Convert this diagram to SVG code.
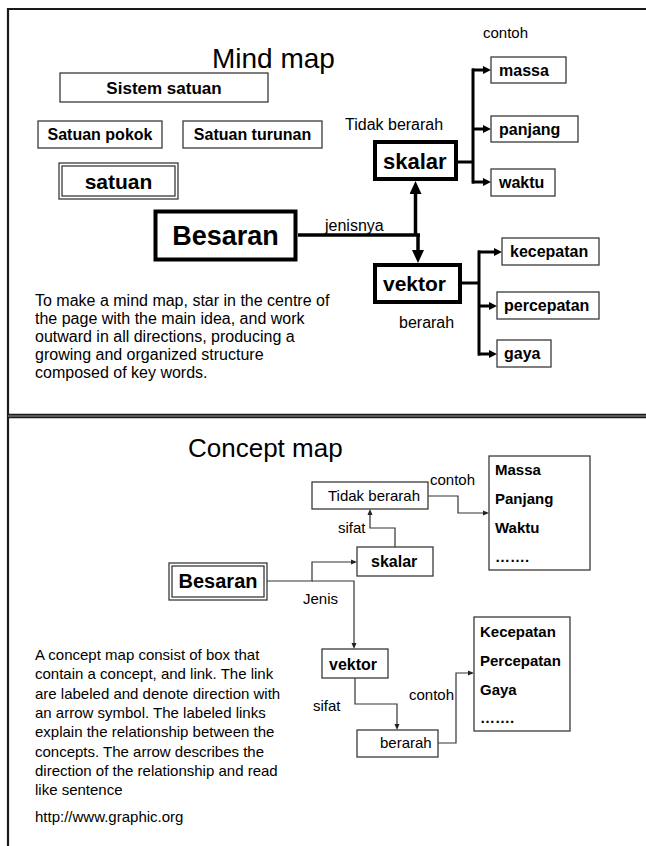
<svg xmlns="http://www.w3.org/2000/svg" width="646" height="846" viewBox="0 0 646 846">
  <defs>
    <style>
      .frame{fill:none;stroke:#1a1a1a;stroke-width:2.2}
      .box{fill:#fff;stroke:#3a3a3a;stroke-width:1.3}
      .thick{fill:#fff;stroke:#000;stroke-width:4}
      .t{font-family:"Liberation Sans",Arial,sans-serif;fill:#000}
      .b{font-weight:bold}
      .mm{fill:none;stroke:#000;stroke-width:3.5}
      .br{fill:none;stroke:#000;stroke-width:3}
      .cm{fill:none;stroke:#333;stroke-width:1.2}
    </style>
    <marker id="bigHead" markerUnits="userSpaceOnUse" markerWidth="13" markerHeight="12" refX="0" refY="6" orient="auto">
      <path d="M0,0 L13,6 L0,12 z" fill="#000"/>
    </marker>
    <marker id="smallHead" markerUnits="userSpaceOnUse" markerWidth="8" markerHeight="8" refX="0" refY="4" orient="auto">
      <path d="M0,0 L8,4 L0,8 z" fill="#000"/>
    </marker>
    <marker id="thinHead" markerUnits="userSpaceOnUse" markerWidth="6" markerHeight="6" refX="0" refY="3" orient="auto">
      <path d="M0,0.5 L6,3 L0,5.5 z" fill="#222"/>
    </marker>
  </defs>

  <rect width="646" height="846" fill="#fff"/>

  <!-- page frame and divider between the two panels -->
  <g id="frame">
    <path class="frame" d="M646 9 H8 V846"/>
    <path d="M8 416 H646" stroke="#1a1a1a" stroke-width="4.5" fill="none"/>
    <path d="M8 416 H646" stroke="#9a9a9a" stroke-width="1" fill="none"/>
  </g>

  <!-- ===== Mind map panel ===== -->
  <text class="t" x="212" y="68" font-size="28">Mind map</text>

  <g id="connectors-mind">
    <path class="mm" d="M298 235 H420"/>
    <path class="mm" d="M415.5 236 V194" marker-end="url(#bigHead)"/>
    <path class="mm" d="M418 234 V250" marker-end="url(#bigHead)"/>
    <!-- skalar branches -->
    <path class="br" d="M457 162 H473"/>
    <path class="br" d="M473 68.5 V183.5"/>
    <path class="br" d="M472 70 H483" marker-end="url(#smallHead)"/>
    <path class="br" d="M472 129 H483" marker-end="url(#smallHead)"/>
    <path class="br" d="M472 182 H483" marker-end="url(#smallHead)"/>
    <!-- vektor branches -->
    <path class="br" d="M461 283 H479"/>
    <path class="br" d="M479 250.5 V355.5"/>
    <path class="br" d="M478 252 H494" marker-end="url(#smallHead)"/>
    <path class="br" d="M478 306 H489" marker-end="url(#smallHead)"/>
    <path class="br" d="M478 354 H489" marker-end="url(#smallHead)"/>
    <text class="t" x="325" y="231" font-size="16">jenisnya</text>
    <text class="t" x="483" y="38" font-size="15">contoh</text>
    <text class="t" x="345" y="130" font-size="16">Tidak berarah</text>
    <text class="t" x="399" y="328" font-size="16">berarah</text>
  </g>

  <g id="sistem-satuan">
    <rect class="box" x="60" y="73" width="208" height="29"/>
    <text class="t b" x="164" y="94" font-size="17" text-anchor="middle">Sistem satuan</text>
  </g>
  <g id="satuan-pokok">
    <rect class="box" x="38" y="121" width="124" height="27"/>
    <text class="t b" x="100" y="140" font-size="16" text-anchor="middle">Satuan pokok</text>
  </g>
  <g id="satuan-turunan">
    <rect class="box" x="183" y="121" width="139" height="27"/>
    <text class="t b" x="252.5" y="140" font-size="16" text-anchor="middle">Satuan turunan</text>
  </g>
  <g id="satuan">
    <rect class="box" x="59" y="163" width="119" height="36"/>
    <rect class="box" x="62" y="166" width="113" height="30"/>
    <text class="t b" x="118.5" y="188.5" font-size="21" text-anchor="middle">satuan</text>
  </g>
  <g id="besaran-mind">
    <rect class="thick" x="155.5" y="211.5" width="140" height="48" stroke-width="5"/>
    <text class="t b" x="225.5" y="245" font-size="27" text-anchor="middle">Besaran</text>
  </g>
  <g id="skalar-mind">
    <rect class="thick" x="375" y="142" width="81" height="37"/>
    <text class="t b" x="383" y="168.5" font-size="22">skalar</text>
  </g>
  <g id="vektor-mind">
    <rect class="thick" x="375" y="265" width="85" height="37"/>
    <text class="t b" x="383" y="291" font-size="21">vektor</text>
  </g>
  <g id="massa">
    <rect class="box" x="491" y="57" width="75" height="26"/>
    <text class="t b" x="499" y="76" font-size="16">massa</text>
  </g>
  <g id="panjang">
    <rect class="box" x="491" y="116" width="87" height="26"/>
    <text class="t b" x="499" y="135" font-size="16">panjang</text>
  </g>
  <g id="waktu">
    <rect class="box" x="491" y="169" width="64" height="27"/>
    <text class="t b" x="499" y="188" font-size="16">waktu</text>
  </g>
  <g id="kecepatan">
    <rect class="box" x="502" y="238" width="97" height="27"/>
    <text class="t b" x="510" y="257" font-size="16">kecepatan</text>
  </g>
  <g id="percepatan">
    <rect class="box" x="497" y="292" width="102" height="27"/>
    <text class="t b" x="504" y="311" font-size="16">percepatan</text>
  </g>
  <g id="gaya">
    <rect class="box" x="497" y="340" width="54" height="27"/>
    <text class="t b" x="504" y="359" font-size="16">gaya</text>
  </g>

  <g id="mind-note" class="t" font-size="16">
    <text x="35" y="306">To make a mind map, star in the centre of</text>
    <text x="35" y="324">the page with the main idea, and work</text>
    <text x="35" y="342">outward in all directions, producing a</text>
    <text x="35" y="360">growing and organized structure</text>
    <text x="35" y="378">composed of key words.</text>
  </g>

  <!-- ===== Concept map panel ===== -->
  <text class="t" x="188" y="457" font-size="26">Concept map</text>

  <g id="connectors-concept">
    <path class="cm" d="M267 581 H312 V562 H351" marker-end="url(#thinHead)"/>
    <path class="cm" d="M312 581 H354 V643" marker-end="url(#thinHead)"/>
    <path class="cm" d="M395 547 V528 H370 V515" marker-end="url(#thinHead)"/>
    <path class="cm" d="M428 496 H458 V513 H483" marker-end="url(#thinHead)"/>
    <path class="cm" d="M355 678 V704 H397 V724" marker-end="url(#thinHead)"/>
    <path class="cm" d="M438 743 H456 V673 H468" marker-end="url(#thinHead)"/>
    <text class="t" x="430" y="485" font-size="15">contoh</text>
    <text class="t" x="338" y="533" font-size="15">sifat</text>
    <text class="t" x="303" y="604" font-size="15">Jenis</text>
    <text class="t" x="313" y="711" font-size="15">sifat</text>
    <text class="t" x="409" y="700" font-size="15">contoh</text>
  </g>

  <g id="tidak-berarah">
    <rect class="box" x="312" y="482" width="116" height="27"/>
    <text class="t" x="328" y="501" font-size="15">Tidak berarah</text>
  </g>
  <g id="contoh-skalar">
    <rect class="box" x="489" y="456" width="101" height="114"/>
    <text class="t b" x="495" y="475" font-size="15">Massa</text>
    <text class="t b" x="495" y="504" font-size="15">Panjang</text>
    <text class="t b" x="495" y="533" font-size="15">Waktu</text>
    <text class="t b" x="495" y="562" font-size="15">…….</text>
  </g>
  <g id="skalar-concept">
    <rect class="box" x="357" y="547" width="76" height="29"/>
    <text class="t b" x="371" y="567" font-size="16">skalar</text>
  </g>
  <g id="besaran-concept">
    <rect class="box" x="169" y="563" width="98" height="37"/>
    <rect class="box" x="172" y="566" width="92" height="31"/>
    <text class="t b" x="218" y="588" font-size="20" text-anchor="middle">Besaran</text>
  </g>
  <g id="vektor-concept">
    <rect class="box" x="322" y="649" width="66" height="29"/>
    <text class="t b" x="329" y="670" font-size="16">vektor</text>
  </g>
  <g id="berarah">
    <rect class="box" x="357" y="730" width="81" height="27"/>
    <text class="t" x="380" y="748" font-size="15">berarah</text>
  </g>
  <g id="contoh-vektor">
    <rect class="box" x="474" y="617" width="96" height="114"/>
    <text class="t b" x="480" y="637" font-size="15">Kecepatan</text>
    <text class="t b" x="480" y="666" font-size="15">Percepatan</text>
    <text class="t b" x="480" y="695" font-size="15">Gaya</text>
    <text class="t b" x="480" y="723" font-size="15">…….</text>
  </g>

  <g id="concept-note" class="t" font-size="15">
    <text x="35" y="660">A concept map consist of box that</text>
    <text x="35" y="679.3">contain a concept, and link. The link</text>
    <text x="35" y="698.6">are labeled and denote direction with</text>
    <text x="35" y="717.9">an arrow symbol. The labeled links</text>
    <text x="35" y="737.2">explain the relationship between the</text>
    <text x="35" y="756.5">concepts. The arrow describes the</text>
    <text x="35" y="775.8">direction of the relationship and read</text>
    <text x="35" y="795.1">like sentence</text>
    <text x="35" y="822">http://www.graphic.org</text>
  </g>
</svg>
